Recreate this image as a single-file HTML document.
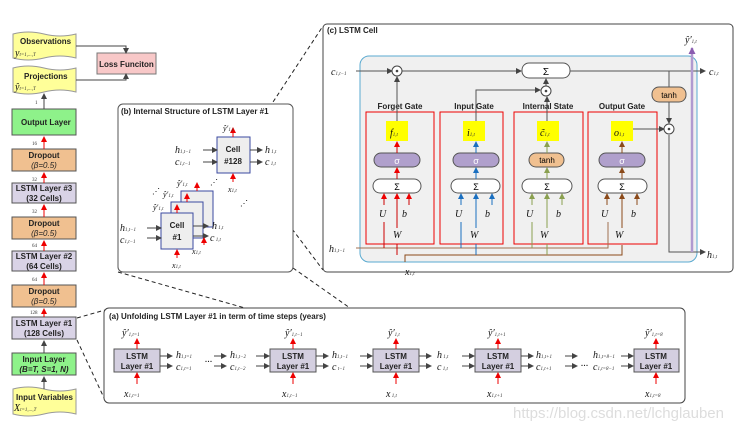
<!DOCTYPE html>
<html><head><meta charset="utf-8"><style>
body{margin:0;background:#fff}
svg{display:block;font-family:"Liberation Sans",sans-serif}
.b{font-weight:bold;font-size:8px;fill:#222}
.m{font-family:"Liberation Serif",serif;font-style:italic;font-size:10px;fill:#111}
.s{font-family:"Liberation Serif",serif;font-size:5px;fill:#333}
</style></head><body>
<svg width="744" height="428" viewBox="0 0 744 428" xmlns="http://www.w3.org/2000/svg">
<defs>
<marker id="a" markerWidth="6" markerHeight="6" refX="5" refY="3" orient="auto"><path d="M0,0L6,3L0,6z" fill="#444"/></marker>
<marker id="r" markerWidth="6" markerHeight="6" refX="5" refY="3" orient="auto"><path d="M0,0L6,3L0,6z" fill="#e00"/></marker>
<marker id="bl" markerWidth="6" markerHeight="6" refX="5" refY="3" orient="auto"><path d="M0,0L6,3L0,6z" fill="#1a6fc0"/></marker>
<marker id="g" markerWidth="6" markerHeight="6" refX="5" refY="3" orient="auto"><path d="M0,0L6,3L0,6z" fill="#8aa050"/></marker>
<marker id="br" markerWidth="6" markerHeight="6" refX="5" refY="3" orient="auto"><path d="M0,0L6,3L0,6z" fill="#8b4a1a"/></marker>
<marker id="p" markerWidth="7" markerHeight="7" refX="6" refY="3.5" orient="auto" markerUnits="userSpaceOnUse"><path d="M0,0L7,3.5L0,7z" fill="#8a5cb0"/></marker>
</defs>

<!-- left column -->
<path d="M13,34 Q28,30 44,34 T76,34 V58 Q60,54 44,58 T13,58Z" fill="#ffff99" stroke="#999"/>
<text x="20" y="44" class="b">Observations</text><text x="15" y="56" class="m" font-size="9">y<tspan class="s" font-size="6">t=1,...,T</tspan></text>
<path d="M13,68 Q28,64 44,68 T76,68 V92 Q60,88 44,92 T13,92Z" fill="#ffff99" stroke="#999"/>
<text x="24" y="79" class="b">Projections</text><text x="15" y="90" class="m" font-size="9">ŷ<tspan class="s" font-size="6">t=1,...,T</tspan></text>
<rect x="97" y="53" width="59" height="21" fill="#f8c8c8" stroke="#777"/><text x="126.5" y="67" class="b" font-size="7.5" text-anchor="middle">Loss Funciton</text>
<path d="M76,46 H126 V53" fill="none" stroke="#444" marker-end="url(#a)"/>
<path d="M76,80 H126 V74" fill="none" stroke="#444" marker-end="url(#a)"/>
<rect x="12" y="109" width="64" height="26" fill="#8ef28a" stroke="#555"/><text x="21" y="125" class="b">Output Layer</text>
<text x="35" y="104" class="s" font-size="6">1</text><line x1="44" y1="109" x2="44" y2="94" stroke="#444" marker-end="url(#a)"/>
<g class="b" text-anchor="middle">
<rect x="12" y="149" width="64" height="22" fill="#f0c090" stroke="#555"/><text x="44" y="158">Dropout</text><text x="44" y="168" font-style="italic" font-weight="normal">(β=0.5)</text>
<rect x="12" y="183" width="64" height="20" fill="#d9d3e6" stroke="#555"/><text x="44" y="191">LSTM Layer #3</text><text x="44" y="201">(32 Cells)</text>
<rect x="12" y="217" width="64" height="22" fill="#f0c090" stroke="#555"/><text x="44" y="226">Dropout</text><text x="44" y="236" font-style="italic" font-weight="normal">(β=0.5)</text>
<rect x="12" y="251" width="64" height="20" fill="#d9d3e6" stroke="#555"/><text x="44" y="259">LSTM Layer #2</text><text x="44" y="269">(64 Cells)</text>
<rect x="12" y="285" width="64" height="22" fill="#f0c090" stroke="#555"/><text x="44" y="294">Dropout</text><text x="44" y="304" font-style="italic" font-weight="normal">(β=0.5)</text>
<rect x="12" y="317" width="64" height="22" fill="#d9d3e6" stroke="#555"/><text x="44" y="326">LSTM Layer #1</text><text x="44" y="336">(128 Cells)</text>
<rect x="12" y="353" width="64" height="22" fill="#8ef28a" stroke="#555"/><text x="44" y="362">Input Layer</text><text x="44" y="372" font-style="italic">(B=T, S=1, N)</text>
</g>
<path d="M13,389 Q28,385 44,389 T76,389 V414 Q60,410 44,414 T13,414Z" fill="#ffff99" stroke="#999"/>
<text x="16" y="400" class="b">Input Variables</text><text x="14" y="411" class="m" font-size="9">X<tspan class="s" font-size="6">t=1,...,T</tspan></text>
<g stroke="#e00" marker-end="url(#r)">
<line x1="44" y1="149" x2="44" y2="137"/><line x1="44" y1="183" x2="44" y2="173"/><line x1="44" y1="217" x2="44" y2="205"/><line x1="44" y1="251" x2="44" y2="241"/><line x1="44" y1="285" x2="44" y2="273"/><line x1="44" y1="317" x2="44" y2="309"/></g>
<line x1="44" y1="353" x2="44" y2="341" stroke="#444" marker-end="url(#a)"/><line x1="44" y1="389" x2="44" y2="377" stroke="#444" marker-end="url(#a)"/>
<g class="s" font-size="6"><text x="32" y="145">16</text><text x="32" y="213">32</text><text x="32" y="181">32</text><text x="32" y="247">64</text><text x="32" y="281">64</text><text x="30" y="314">128</text></g>

<!-- dashed zoom lines -->
<g stroke="#222" stroke-dasharray="4,3" fill="none">
<line x1="77" y1="318" x2="105" y2="310"/><line x1="77" y1="340" x2="105" y2="400"/>
<line x1="118" y1="272" x2="245" y2="308"/><line x1="293" y1="268" x2="350" y2="308"/>
<line x1="250" y1="137" x2="323" y2="26"/><line x1="250" y1="173" x2="323" y2="270"/>
<line x1="290" y1="365" x2="380" y2="345"/>
</g>

<!-- (b) -->
<rect x="118" y="104" width="175" height="168" rx="5" fill="#fff" stroke="#555"/>
<text x="121" y="114" class="b">(b)  Internal Structure of LSTM Layer #1</text>
<rect x="217" y="137" width="33" height="36" fill="#eee" stroke="#3b4aa0"/><text x="233" y="152" class="b" font-weight="normal" text-anchor="middle">Cell</text><text x="233" y="164" class="b" font-weight="normal" text-anchor="middle">#128</text>
<rect x="181" y="191" width="32" height="36" fill="#eee" stroke="#3b4aa0"/><rect x="171" y="202" width="32" height="36" fill="#eee" stroke="#3b4aa0"/>
<rect x="161" y="213" width="32" height="36" fill="#eee" stroke="#3b4aa0"/><text x="177" y="228" class="b" font-weight="normal" text-anchor="middle">Cell</text><text x="177" y="240" class="b" font-weight="normal" text-anchor="middle">#1</text>
<g stroke="#444" marker-end="url(#a)"><line x1="203" y1="150" x2="217" y2="150"/><line x1="203" y1="162" x2="217" y2="162"/><line x1="250" y1="150" x2="262" y2="150"/><line x1="250" y1="162" x2="262" y2="162"/>
<line x1="147" y1="228" x2="161" y2="228"/><line x1="147" y1="238" x2="161" y2="238"/><line x1="193" y1="226" x2="208" y2="226"/><line x1="193" y1="236" x2="208" y2="236"/></g>
<g stroke="#e00" marker-end="url(#r)"><line x1="233" y1="137" x2="233" y2="128"/><line x1="233" y1="182" x2="233" y2="174"/><line x1="177" y1="258" x2="177" y2="250"/><line x1="204" y1="245" x2="204" y2="238"/><line x1="177" y1="213" x2="177" y2="205"/><line x1="187" y1="202" x2="187" y2="194"/><line x1="197" y1="191" x2="197" y2="183"/></g>
<g class="m"><text x="175" y="153">h<tspan class="s" font-size="7">1,t−1</tspan></text><text x="175" y="165">c<tspan class="s" font-size="7">1,t−1</tspan></text>
<text x="265" y="153">h<tspan class="s" font-size="7"> 1,t</tspan></text><text x="265" y="165">c<tspan class="s" font-size="7"> 1,t</tspan></text>
<text x="223" y="131" font-size="8">ŷ′<tspan class="s">1,t</tspan></text><text x="228" y="192" font-size="8">x<tspan class="s">1,t</tspan></text>
<text x="120" y="231">h<tspan class="s" font-size="7">1,t−1</tspan></text><text x="120" y="243">c<tspan class="s" font-size="7">1,t−1</tspan></text>
<text x="212" y="229">h<tspan class="s" font-size="7"> 1,t</tspan></text><text x="210" y="241">c<tspan class="s" font-size="7"> 1,t</tspan></text>
<text x="172" y="268" font-size="8">x<tspan class="s">1,t</tspan></text><text x="192" y="254" font-size="8">x<tspan class="s">1,t</tspan></text>
<text x="177" y="186" font-size="8">ŷ′<tspan class="s">1,t</tspan></text><text x="163" y="197" font-size="8">ŷ′<tspan class="s">1,t</tspan></text><text x="153" y="210" font-size="8">ŷ′<tspan class="s">1,t</tspan></text></g>
<text x="152" y="194" font-size="8">⋰</text><text x="210" y="185" font-size="8">⋰</text><text x="240" y="206" font-size="8">⋰</text>

<!-- (c) -->
<rect x="323" y="24" width="410" height="248" rx="4" fill="#fff" stroke="#444"/>
<text x="327" y="33" class="b">(c) LSTM Cell</text>
<rect x="360" y="56" width="337" height="206" rx="9" fill="#f0f0f0" stroke="#5aaad0"/>
<g fill="none" stroke="#e00"><rect x="366" y="112" width="68" height="132"/><rect x="440" y="112" width="63" height="132"/><rect x="514" y="112" width="69" height="132"/><rect x="588" y="112" width="69" height="132"/></g>
<g class="b" text-anchor="middle" font-size="7"><text x="400" y="109">Forget Gate</text><text x="474" y="109">Input Gate</text><text x="548" y="109">Internal State</text><text x="622" y="109">Output Gate</text></g>
<g stroke="#555" fill="none"><line x1="356" y1="71" x2="392" y2="71" marker-end="url(#a)"/><line x1="402" y1="71" x2="521" y2="71" marker-end="url(#a)"/><line x1="570" y1="71" x2="705" y2="71" marker-end="url(#a)"/>
<line x1="546" y1="86" x2="546" y2="79" marker-end="url(#a)"/><path d="M476,122 V90 H540" marker-end="url(#a)"/><line x1="547" y1="122" x2="547" y2="97" marker-end="url(#a)"/><line x1="397" y1="122" x2="397" y2="77" marker-end="url(#a)"/>
<line x1="669" y1="71" x2="669" y2="87"/><line x1="669" y1="102" x2="669" y2="123" marker-end="url(#a)"/><line x1="632" y1="129" x2="664" y2="129" marker-end="url(#a)"/><path d="M669,135 V252 H705" marker-end="url(#a)"/></g>
<line x1="692" y1="252" x2="692" y2="48" stroke="#b09ad0" stroke-width="2.5" marker-end="url(#p)"/>
<g fill="#fff" stroke="#444"><circle cx="397" cy="71" r="5"/><circle cx="546" cy="91" r="5"/><circle cx="669" cy="129" r="5"/></g>
<g fill="#444"><circle cx="397" cy="71" r="1.3"/><circle cx="546" cy="91" r="1.3"/><circle cx="669" cy="129" r="1.3"/></g>
<rect x="522" y="63" width="48" height="15" rx="7" fill="#fff" stroke="#555"/><text x="546" y="75" text-anchor="middle" font-size="10">Σ</text>
<rect x="652" y="87" width="34" height="15" rx="7" fill="#f0c090" stroke="#555"/><text x="669" y="98" text-anchor="middle" font-size="8">tanh</text>
<g class="m"><text x="331" y="75">c<tspan class="s" font-size="7">1,t−1</tspan></text><text x="709" y="75">c<tspan class="s" font-size="7">1,t</tspan></text>
<text x="329" y="252">h<tspan class="s" font-size="7">1,t−1</tspan></text><text x="707" y="258">h<tspan class="s" font-size="7">1,t</tspan></text>
<text x="685" y="43">ŷ′<tspan class="s" font-size="7">1,t</tspan></text><text x="405" y="275">x<tspan class="s" font-size="7">1,t</tspan></text></g>
<g>
<rect x="386" y="121" width="22" height="20" fill="#ff0"/><text x="390" y="136" class="m">f<tspan class="s" font-size="7">1,t</tspan></text>
<rect x="463" y="121" width="22" height="20" fill="#ff0"/><text x="467" y="136" class="m">i<tspan class="s" font-size="7">1,t</tspan></text>
<rect x="537" y="121" width="22" height="20" fill="#ff0"/><text x="540" y="136" class="m">c̃<tspan class="s" font-size="7">1,t</tspan></text>
<rect x="611" y="121" width="22" height="20" fill="#ff0"/><text x="614" y="136" class="m">o<tspan class="s" font-size="7">1,t</tspan></text>
<rect x="374" y="153" width="46" height="14" rx="7" fill="#b0a0cc" stroke="#555"/><text x="397" y="164" text-anchor="middle" fill="#fff" font-size="9">σ</text>
<rect x="453" y="153" width="46" height="14" rx="7" fill="#b0a0cc" stroke="#555"/><text x="476" y="164" text-anchor="middle" fill="#fff" font-size="9">σ</text>
<rect x="529" y="153" width="35" height="14" rx="7" fill="#f0c090" stroke="#555"/><text x="547" y="163" text-anchor="middle" font-size="8">tanh</text>
<rect x="599" y="153" width="46" height="14" rx="7" fill="#b0a0cc" stroke="#555"/><text x="622" y="164" text-anchor="middle" fill="#fff" font-size="9">σ</text>
<g fill="#fff" stroke="#555"><rect x="373" y="179" width="48" height="14" rx="7"/><rect x="451" y="179" width="49" height="14" rx="7"/><rect x="522" y="179" width="50" height="14" rx="7"/><rect x="598" y="179" width="49" height="14" rx="7"/></g>
<g text-anchor="middle" font-size="9"><text x="397" y="190">Σ</text><text x="476" y="190">Σ</text><text x="547" y="190">Σ</text><text x="622" y="190">Σ</text></g>
<g class="m" font-size="8"><text x="379" y="217">U</text><text x="402" y="217">b</text><text x="393" y="238">W</text>
<text x="455" y="217">U</text><text x="485" y="217">b</text><text x="470" y="238">W</text>
<text x="526" y="217">U</text><text x="556" y="217">b</text><text x="540" y="238">W</text>
<text x="601" y="217">U</text><text x="631" y="217">b</text><text x="615" y="238">W</text></g>
</g>
<g stroke="#c00" fill="none" marker-end="url(#r)"><line x1="397" y1="153" x2="397" y2="142"/><line x1="397" y1="179" x2="397" y2="168"/><line x1="397" y1="228" x2="397" y2="194"/><line x1="384" y1="205" x2="384" y2="194"/><line x1="409" y1="205" x2="409" y2="194"/></g>
<g stroke="#1a6fc0" fill="none" marker-end="url(#bl)"><line x1="476" y1="153" x2="476" y2="142"/><line x1="476" y1="179" x2="476" y2="168"/><line x1="476" y1="228" x2="476" y2="194"/><line x1="461" y1="205" x2="461" y2="194"/><line x1="492" y1="205" x2="492" y2="194"/></g>
<g stroke="#8aa050" fill="none" marker-end="url(#g)"><line x1="547" y1="153" x2="547" y2="142"/><line x1="547" y1="179" x2="547" y2="168"/><line x1="547" y1="228" x2="547" y2="194"/><line x1="532" y1="205" x2="532" y2="194"/><line x1="562" y1="205" x2="562" y2="194"/></g>
<g stroke="#8b4a1a" fill="none" marker-end="url(#br)"><line x1="622" y1="153" x2="622" y2="142"/><line x1="622" y1="179" x2="622" y2="168"/><line x1="622" y1="228" x2="622" y2="194"/><line x1="607" y1="205" x2="607" y2="194"/><line x1="637" y1="205" x2="637" y2="194"/></g>
<g fill="none" stroke-width="1"><path d="M356,248 H608 V222" stroke="#a07050"/><path d="M405,262 V255 H622 V245" stroke="#8b4a1a"/>
<line x1="384" y1="222" x2="384" y2="248" stroke="#c00"/><line x1="397" y1="244" x2="397" y2="255" stroke="#c00"/><line x1="461" y1="222" x2="461" y2="248" stroke="#1a6fc0"/><line x1="476" y1="244" x2="476" y2="255" stroke="#1a6fc0"/><line x1="532" y1="222" x2="532" y2="248" stroke="#8aa050"/><line x1="547" y1="244" x2="547" y2="255" stroke="#8aa050"/></g>

<!-- (a) -->
<rect x="104" y="308" width="581" height="95" rx="5" fill="#fff" stroke="#444"/>
<text x="109" y="319" class="b">(a)  Unfolding LSTM Layer #1 in term of time steps (years)</text>
<g fill="#d4cfe0" stroke="#555"><rect x="114" y="349" width="46" height="23"/><rect x="270" y="349" width="46" height="23"/><rect x="373" y="349" width="46" height="23"/><rect x="475" y="349" width="46" height="23"/><rect x="634" y="349" width="45" height="23"/></g>
<g class="b" text-anchor="middle"><text x="137" y="359">LSTM</text><text x="137" y="369">Layer #1</text><text x="293" y="359">LSTM</text><text x="293" y="369">Layer #1</text><text x="396" y="359">LSTM</text><text x="396" y="369">Layer #1</text><text x="498" y="359">LSTM</text><text x="498" y="369">Layer #1</text><text x="656" y="359">LSTM</text><text x="656" y="369">Layer #1</text></g>
<g stroke="#e00" marker-end="url(#r)"><line x1="137" y1="349" x2="137" y2="339"/><line x1="137" y1="384" x2="137" y2="373"/><line x1="293" y1="349" x2="293" y2="339"/><line x1="293" y1="384" x2="293" y2="373"/><line x1="396" y1="349" x2="396" y2="339"/><line x1="396" y1="384" x2="396" y2="373"/><line x1="498" y1="349" x2="498" y2="339"/><line x1="498" y1="384" x2="498" y2="373"/><line x1="656" y1="349" x2="656" y2="339"/><line x1="656" y1="384" x2="656" y2="373"/></g>
<g stroke="#444" marker-end="url(#a)"><line x1="160" y1="356" x2="172" y2="356"/><line x1="160" y1="366" x2="172" y2="366"/><line x1="214" y1="356" x2="226" y2="356"/><line x1="214" y1="366" x2="226" y2="366"/><line x1="256" y1="356" x2="269" y2="356"/><line x1="256" y1="366" x2="269" y2="366"/><line x1="316" y1="356" x2="328" y2="356"/><line x1="316" y1="366" x2="328" y2="366"/><line x1="360" y1="356" x2="372" y2="356"/><line x1="360" y1="366" x2="372" y2="366"/><line x1="419" y1="356" x2="431" y2="356"/><line x1="419" y1="366" x2="431" y2="366"/><line x1="462" y1="356" x2="474" y2="356"/><line x1="462" y1="366" x2="474" y2="366"/><line x1="521" y1="356" x2="533" y2="356"/><line x1="521" y1="366" x2="533" y2="366"/><line x1="565" y1="356" x2="577" y2="356"/><line x1="565" y1="366" x2="577" y2="366"/><line x1="621" y1="356" x2="633" y2="356"/><line x1="621" y1="366" x2="633" y2="366"/></g>
<g class="m" font-size="9"><text x="176" y="358">h<tspan class="s" font-size="6">1,t=1</tspan></text><text x="176" y="370">c<tspan class="s" font-size="6">1,t=1</tspan></text><text x="205" y="362">...</text>
<text x="230" y="358">h<tspan class="s" font-size="6">1,t−2</tspan></text><text x="230" y="370">c<tspan class="s" font-size="6">1,t−2</tspan></text>
<text x="332" y="358">h<tspan class="s" font-size="6">1,t−1</tspan></text><text x="332" y="370">c<tspan class="s" font-size="6"> t−1</tspan></text>
<text x="437" y="358">h<tspan class="s" font-size="6"> 1,t</tspan></text><text x="437" y="370">c<tspan class="s" font-size="6"> 1,t</tspan></text>
<text x="536" y="358">h<tspan class="s" font-size="6">1,t+1</tspan></text><text x="536" y="370">c<tspan class="s" font-size="6">1,t+1</tspan></text><text x="581" y="366">...</text>
<text x="593" y="358">h<tspan class="s" font-size="6">1,t=8−1</tspan></text><text x="593" y="370">c<tspan class="s" font-size="6">1,t=8−1</tspan></text>
<text x="122" y="336">ŷ′<tspan class="s" font-size="6">1,t=1</tspan></text><text x="285" y="336">ŷ′<tspan class="s" font-size="6">1,t−1</tspan></text><text x="388" y="336">ŷ′<tspan class="s" font-size="6">1,t</tspan></text><text x="488" y="336">ŷ′<tspan class="s" font-size="6">1,t+1</tspan></text><text x="645" y="336">ŷ′<tspan class="s" font-size="6">1,t=8</tspan></text>
<text x="124" y="397">x<tspan class="s" font-size="6">1,t=1</tspan></text><text x="282" y="397">x<tspan class="s" font-size="6">1,t−1</tspan></text><text x="386" y="397">x<tspan class="s" font-size="6"> 1,t</tspan></text><text x="487" y="397">x<tspan class="s" font-size="6">1,t+1</tspan></text><text x="645" y="397">x<tspan class="s" font-size="6">1,t=8</tspan></text></g>
<text x="513" y="418" font-size="15" fill="#ddd">https://blog.csdn.net/lchglauben</text>
</svg>
</body></html>
